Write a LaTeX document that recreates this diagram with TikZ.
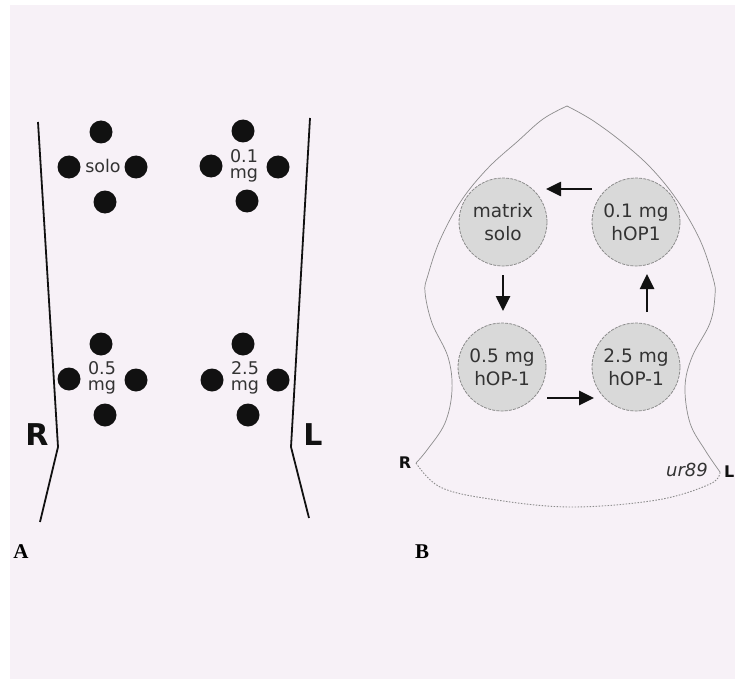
\documentclass[tikz,border=0pt]{standalone}
\usepackage{fontspec}
\setmainfont{DejaVu Sans}
\newfontfamily\capserif{Liberation Serif}
\usetikzlibrary{arrows.meta}
\definecolor{paper}{HTML}{F7F1F7}
\definecolor{ink}{HTML}{111111}
\definecolor{labelgrey}{HTML}{333333}
\definecolor{discfill}{HTML}{D9D9D9}
\definecolor{discedge}{HTML}{8A8A8A}
\definecolor{outline}{HTML}{8C8C8C}
\tikzset{
  dot/.style={circle,fill=ink,minimum size=23pt,inner sep=0pt},
  doselabel/.style={align=center,text=labelgrey,inner sep=0pt,
    font=\fontsize{17.5}{16.5}\selectfont},
  sidelabel/.style={text=ink,inner sep=0pt,font=\fontsize{30}{30}\selectfont\bfseries},
  limb/.style={line width=1.8pt,ink},
  disc/.style={circle,fill=discfill,draw=discedge,line width=0.8pt,
    dash pattern=on 3pt off 1.2pt,minimum size=88pt,inner sep=0pt,
    align=center,text=labelgrey,font=\fontsize{18.5}{23}\selectfont},
  flow/.style={line width=2.6pt,ink,-{Triangle[length=15pt,width=14pt]}},
  panel/.style={inner sep=0pt,font=\fontsize{21}{21}\selectfont\capserif\bfseries},
  contour/.style={outline,line width=0.7pt},
}
\begin{document}
\begin{tikzpicture}[x=1pt,y=-1pt]
\useasboundingbox (0,0) rectangle (735,679);
\fill[white] (0,0) rectangle (735,679);
\fill[paper] (10,5) rectangle (735,679);

% ---------- Panel A: limb with four implant sites ----------
\draw[limb] (38,122) -- (58,447) -- (40,522);
\draw[limb] (310,118) -- (291,447) -- (309,518);
\node[sidelabel] (rA) at (37,435) {R};
\node[sidelabel] (lA) at (313,435) {L};

% site: matrix alone
\node[dot] (s1n) at (101,132) {};
\node[dot] (s1w) at (69,167) {};
\node[dot] (s1e) at (136,167) {};
\node[dot] (s1s) at (105,202) {};
\node[doselabel] (s1t) at (103,166) {solo};

% site: 0.1 mg
\node[dot] (s2n) at (243,131) {};
\node[dot] (s2w) at (211,166) {};
\node[dot] (s2e) at (278,167) {};
\node[dot] (s2s) at (247,201) {};
\node[doselabel] (s2t) at (244,166) {0.1\\mg};

% site: 0.5 mg
\node[dot] (s3n) at (101,344) {};
\node[dot] (s3w) at (69,379) {};
\node[dot] (s3e) at (136,380) {};
\node[dot] (s3s) at (105,415) {};
\node[doselabel] (s3t) at (102,378) {0.5\\mg};

% site: 2.5 mg
\node[dot] (s4n) at (243,344) {};
\node[dot] (s4w) at (212,380) {};
\node[dot] (s4e) at (278,380) {};
\node[dot] (s4s) at (248,415) {};
\node[doselabel] (s4t) at (245,378) {2.5\\mg};

\node[panel] (pa) at (21,552) {A};

% ---------- Panel B: outline with dose sequence ----------
\draw[contour] plot[smooth,tension=0.6] coordinates {
  (567,106) (543,119) (518,141) (488,168) (461,201) (440,240)
  (428,275) (425,292) (432,323) (448,357) (452,390) (445,423)
  (427,450) (416,463)};
\draw[contour] plot[smooth,tension=0.6] coordinates {
  (567,106) (592,120) (622,142) (651,168) (677,200) (700,240)
  (713,278) (715,295) (710,323) (692,357) (685,387) (690,423)
  (705,450) (720,472)};
\draw[contour,line width=0.9pt,dash pattern=on 1.5pt off 1.5pt]
  plot[smooth,tension=0.6] coordinates {
  (416,463) (440,487) (490,499) (570,507) (657,500) (710,484) (720,472)};

\node[disc] (m0) at (503,222) {matrix\\solo};
\node[disc] (m1) at (636,222) {0.1 mg\\hOP1};
\node[disc] (m5) at (502,367) {0.5 mg\\hOP-1};
\node[disc] (m25) at (636,367) {2.5 mg\\hOP-1};

\coordinate (a1s) at (592,189);
\coordinate (a1e) at (546,189);
\coordinate (a2s) at (503,275);
\coordinate (a2e) at (503,311);
\coordinate (a3s) at (547,398);
\coordinate (a3e) at (594,398);
\coordinate (a4s) at (647,312);
\coordinate (a4e) at (647,274);
\draw[flow] (a1s) -- (a1e);
\draw[flow] (a2s) -- (a2e);
\draw[flow] (a3s) -- (a3e);
\draw[flow] (a4s) -- (a4e);

\node[inner sep=0pt,text=ink,font=\fontsize{16}{16}\selectfont\bfseries] (rB) at (405,463) {R};
\node[inner sep=0pt,text=ink,anchor=west,font=\fontsize{16}{16}\selectfont\bfseries] (lB) at (724,472) {L};
\node[inner sep=0pt,text=labelgrey,font=\fontsize{18}{18}\selectfont\itshape] (tag) at (687,470) {ur89};

\node[panel] (pb) at (422,552) {B};
\end{tikzpicture}
\end{document}
